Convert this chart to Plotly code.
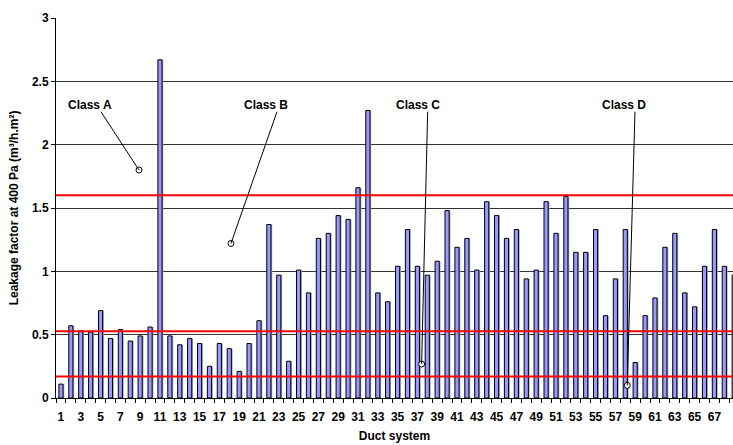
import plotly.graph_objects as go

# ---- data ----
duct_systems = list(range(1, 70))
leakage = [0.11, 0.57, 0.53, 0.52, 0.69, 0.47, 0.54, 0.45, 0.49, 0.56,
           2.67, 0.49, 0.42, 0.47, 0.43, 0.25, 0.43, 0.39, 0.21, 0.43,
           0.61, 1.37, 0.97, 0.29, 1.01, 0.83, 1.26, 1.30, 1.44, 1.41,
           1.66, 2.27, 0.83, 0.76, 1.04, 1.33, 1.04, 0.97, 1.08, 1.48,
           1.19, 1.26, 1.01, 1.55, 1.44, 1.26, 1.33, 0.94, 1.01, 1.55,
           1.30, 1.59, 1.15, 1.15, 1.33, 0.65, 0.94, 1.33, 0.28, 0.65,
           0.79, 1.19, 1.30, 0.83, 0.72, 1.04, 1.33, 1.04, 0.97]
class_limits = [1.6, 0.527, 0.17]

class_labels = ["Class A", "Class B", "Class C", "Class D"]
label_x = [3.98, 21.76, 37.11, 57.92]
label_y = [2.31, 2.31, 2.31, 2.31]
leader_start_x = [5.04, 22.82, 38.04, 58.98]
leader_start_y = [2.26, 2.26, 2.26, 2.26]
point_x = [8.88, 18.17, 37.43, 58.2]
point_y = [1.80, 1.22, 0.268, 0.10]

x_tick_vals = list(range(1, 70, 2))
y_tick_vals = [0, 0.5, 1, 1.5, 2, 2.5, 3]
y_tick_text = ["0", "0.5", "1", "1.5", "2", "2.5", "3"]

FONT = "Liberation Sans, Arial, sans-serif"
FS = 12
BAR_W = 0.42

fig = go.Figure()

# bar shadow
fig.add_trace(go.Bar(
    x=duct_systems, y=leakage, width=BAR_W, offset=-BAR_W / 2 + 0.13,
    marker=dict(color="#a6a6a6", line=dict(width=0)),
    hoverinfo="skip", showlegend=False))

# bars
fig.add_trace(go.Bar(
    x=duct_systems, y=leakage, width=BAR_W, offset=-BAR_W / 2,
    marker=dict(color="#9999FF", line=dict(color="black", width=1)),
    showlegend=False))

# annotation points
fig.add_trace(go.Scatter(
    x=point_x, y=point_y, mode="markers",
    marker=dict(symbol="circle", size=6, color="white",
                line=dict(color="black", width=1)),
    showlegend=False, hoverinfo="skip", cliponaxis=False))

shapes = []
for v in class_limits:
    shapes.append(dict(type="line", xref="paper", yref="y", x0=0, x1=1,
                       y0=v, y1=v, line=dict(color="#FF0000", width=2),
                       layer="above"))
for sx, sy, px, py in zip(leader_start_x, leader_start_y, point_x, point_y):
    shapes.append(dict(type="line", xref="x", yref="y", x0=sx, y0=sy,
                       x1=px, y1=py, line=dict(color="black", width=1),
                       layer="above"))

annotations = []
for t, lx, ly in zip(class_labels, label_x, label_y):
    annotations.append(dict(x=lx, y=ly, xref="x", yref="y", text="<b>%s</b>" % t,
                            showarrow=False, font=dict(family=FONT, size=FS, color="black")))

fig.update_layout(
    width=733, height=445,
    margin=dict(l=56, r=0, t=18, b=47),
    paper_bgcolor="white", plot_bgcolor="white",
    barmode="overlay",
    shapes=shapes, annotations=annotations,
    font=dict(family=FONT, size=FS, color="black"),
    xaxis=dict(
        range=[0.5, 68.88],
        tickmode="array", tickvals=x_tick_vals,
        ticktext=["<b>%d</b>" % v for v in x_tick_vals],
        ticks="outside", ticklen=8, tickcolor="rgba(0,0,0,0)",
        tickfont=dict(family=FONT, size=FS, color="black"),
        showgrid=False, zeroline=False,
        showline=True, linecolor="black", linewidth=1,
        minor=dict(tickmode="array", tickvals=[i + 0.5 for i in range(0, 70)],
                   ticks="outside", ticklen=4, tickcolor="black", showgrid=False),
        title=dict(text="<b>Duct system</b>", standoff=8,
                   font=dict(family=FONT, size=FS, color="black")),
        fixedrange=True,
    ),
    yaxis=dict(
        range=[0, 3],
        tickmode="array", tickvals=y_tick_vals,
        ticktext=["<b>%s</b>" % t for t in y_tick_text],
        ticks="outside", ticklen=4, tickcolor="black",
        tickfont=dict(family=FONT, size=FS, color="black"),
        showgrid=True, gridcolor="#333333", gridwidth=1,
        zeroline=False,
        showline=True, linecolor="black", linewidth=1,
        title=dict(text="<b>Leakage factor at 400 Pa (m³/h.m²)</b>", standoff=10,
                   font=dict(family=FONT, size=FS, color="black")),
        fixedrange=True,
    ),
)

fig.write_html("out.html")
